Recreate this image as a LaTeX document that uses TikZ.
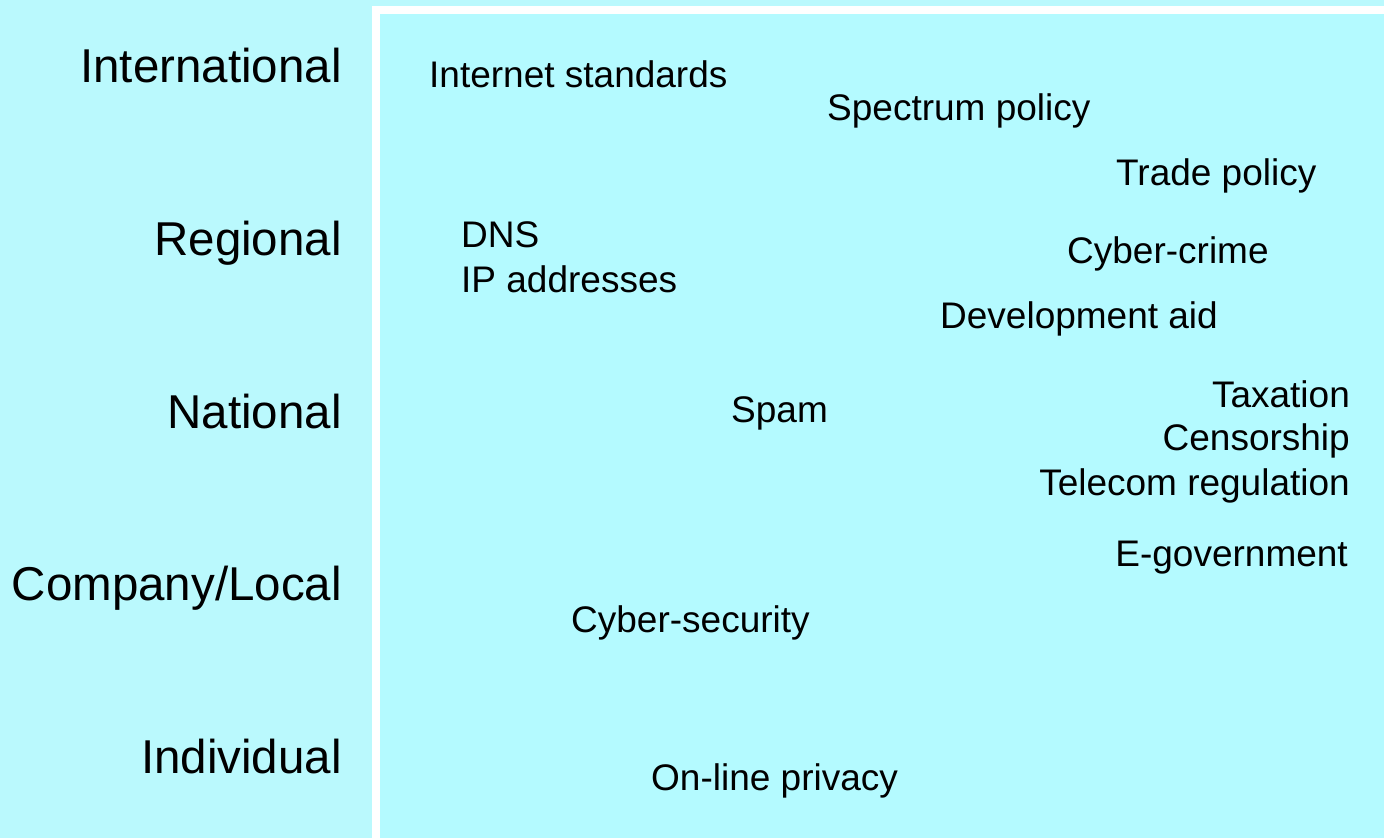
\documentclass[tikz,border=0pt]{standalone}
\usepackage{fontspec}
\setmainfont{Liberation Sans}
\definecolor{leftbg}{HTML}{BAF9FD}
\definecolor{panelbg}{HTML}{B4FAFF}
\begin{document}
\begin{tikzpicture}[x=1pt,y=-1pt,
  level/.style={anchor=base east,inner sep=0pt,font=\fontsize{47.5}{56}\selectfont},
  topic/.style={anchor=base west,inner sep=0pt,font=\fontsize{37}{44}\selectfont},
  topicr/.style={anchor=base east,inner sep=0pt,font=\fontsize{37}{44}\selectfont}]
  % canvas
  \useasboundingbox (0,0) rectangle (1384,838);
  \fill[leftbg] (0,0) rectangle (1384,838);
  % white frame around the topic panel
  \fill[white] (372,6) rectangle (1384,838);
  \fill[panelbg] (380,14) rectangle (1384,838);
  % governance levels
  \node[level] (intl) at (342,82) {International};
  \node[level] (regl) at (342,255) {Regional};
  \node[level] (natl) at (342,428) {National};
  \node[level] (comp) at (342,600) {Company/Local};
  \node[level] (indv) at (342,773) {Individual};
  % policy topics
  \node[topic] (std) at (429,87) {Internet standards};
  \node[topic] (spec) at (827,120) {Spectrum policy};
  \node[topic] (trade) at (1116,185) {Trade policy};
  \node[topic] (dns) at (461,247) {DNS};
  \node[topic] (ip) at (461,292) {IP addresses};
  \node[topic] (crime) at (1067,263) {Cyber-crime};
  \node[topic] (aid) at (940,328) {Development aid};
  \node[topic] (spam) at (731,422) {Spam};
  \node[topicr] (tax) at (1350,407) {Taxation};
  \node[topicr] (cens) at (1350,450) {Censorship};
  \node[topicr] (tel) at (1350,495) {Telecom regulation};
  \node[topicr] (egov) at (1348,566) {E-government};
  \node[topic] (sec) at (571,632) {Cyber-security};
  \node[topic] (priv) at (651,790) {On-line privacy};
\end{tikzpicture}
\end{document}
